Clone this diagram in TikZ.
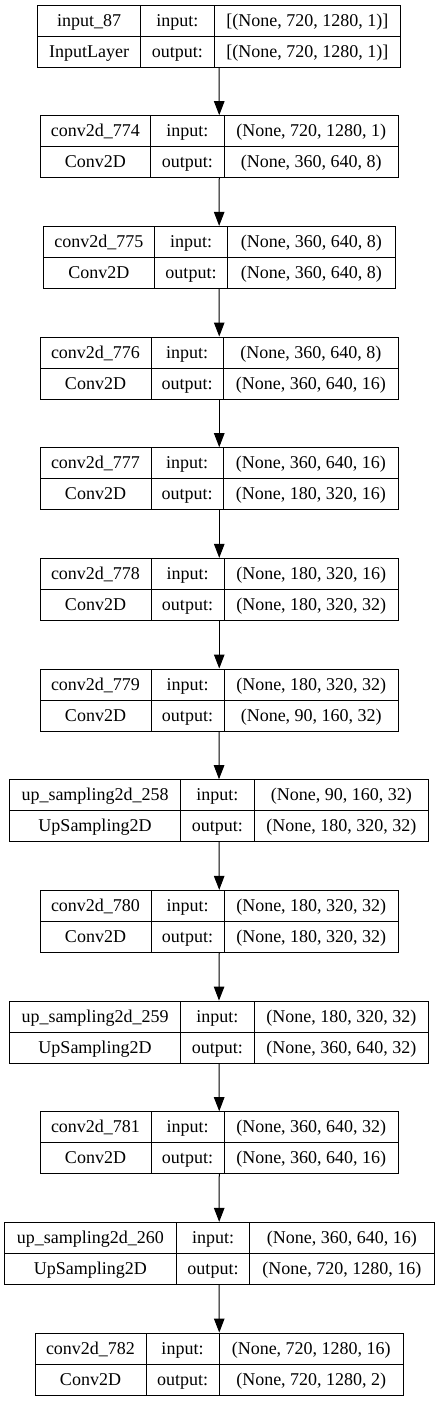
\documentclass[tikz,border=0pt]{standalone}
\usepackage{fontspec}
\setmainfont{Liberation Serif}
\usetikzlibrary{arrows.meta}
\tikzset{
  layerbox/.style={draw=black, line width=1pt, minimum height=62pt, inner sep=0pt, fill=white},
  rule/.style={draw=black, line width=1pt},
  cell/.style={anchor=base, inner sep=0pt, font=\fontsize{18}{20}\selectfont},
  arr/.style={draw=black, line width=1pt, -{Triangle[length=14pt,width=10.5pt]}}
}
\newcommand{\klayer}[9]{%
  \pgfmathsetmacro\ktop{5+#1*110.67}%
  \pgfmathsetmacro\kbot{\ktop+62}%
  \pgfmathsetmacro\kmid{\ktop+31}%
  \pgfmathsetmacro\kw{#5-#2}%
  \pgfmathsetmacro\kcx{(#2+#5)/2}%
  \pgfmathsetmacro\kya{-(\ktop+21)}%
  \pgfmathsetmacro\kyb{-(\kmid+21)}%
  \pgfmathsetmacro\kxa{(#2+#3)/2}%
  \pgfmathsetmacro\kxb{(#3+#4)/2}%
  \pgfmathsetmacro\kxc{(#4+#5)/2}%
  \node[layerbox, minimum width=\kw pt] (b#1) at (\kcx,-\kmid) {};
  \draw[rule] (#3,-\ktop) -- (#3,-\kbot);
  \draw[rule] (#4,-\ktop) -- (#4,-\kbot);
  \draw[rule] (#2,-\kmid) -- (#5,-\kmid);
  \node[cell] (n#1) at (\kxa,\kya) {#6};
  \node[cell] (t#1) at (\kxa,\kyb) {#7};
  \node[cell] (ia#1) at (\kxb,\kya) {input:};
  \node[cell] (oa#1) at (\kxb,\kyb) {output:};
  \node[cell] (iv#1) at (\kxc,\kya) {#8};
  \node[cell] (ov#1) at (\kxc,\kyb) {#9};
}
\begin{document}
\begin{tikzpicture}[x=1pt,y=1pt]
\useasboundingbox (0,0) rectangle (439,-1401);
\fill[white] (0,0) rectangle (439,-1401);
\klayer{0}{37.7}{140.7}{214}{400.7}{input\_87}{InputLayer}{[(None, 720, 1280, 1)]}{[(None, 720, 1280, 1)]}
\klayer{1}{40}{150.7}{224}{398.5}{conv2d\_774}{Conv2D}{(None, 720, 1280, 1)}{(None, 360, 640, 8)}
\klayer{2}{43.3}{154.3}{227.7}{395}{conv2d\_775}{Conv2D}{(None, 360, 640, 8)}{(None, 360, 640, 8)}
\klayer{3}{40}{151}{223.3}{398.5}{conv2d\_776}{Conv2D}{(None, 360, 640, 8)}{(None, 360, 640, 16)}
\klayer{4}{40}{151}{223.3}{398.5}{conv2d\_777}{Conv2D}{(None, 360, 640, 16)}{(None, 180, 320, 16)}
\klayer{5}{40}{151}{224}{398.5}{conv2d\_778}{Conv2D}{(None, 180, 320, 16)}{(None, 180, 320, 32)}
\klayer{6}{40}{151}{224}{398.5}{conv2d\_779}{Conv2D}{(None, 180, 320, 32)}{(None, 90, 160, 32)}
\klayer{7}{9.3}{180.7}{254}{428.7}{up\_sampling2d\_258}{UpSampling2D}{(None, 90, 160, 32)}{(None, 180, 320, 32)}
\klayer{8}{40}{151}{224}{398.5}{conv2d\_780}{Conv2D}{(None, 180, 320, 32)}{(None, 180, 320, 32)}
\klayer{9}{9.3}{180.7}{254}{428.7}{up\_sampling2d\_259}{UpSampling2D}{(None, 180, 320, 32)}{(None, 360, 640, 32)}
\klayer{10}{40}{151}{224}{398.5}{conv2d\_781}{Conv2D}{(None, 360, 640, 32)}{(None, 360, 640, 16)}
\klayer{11}{4}{176.7}{249.3}{434.4}{up\_sampling2d\_260}{UpSampling2D}{(None, 360, 640, 16)}{(None, 720, 1280, 16)}
\klayer{12}{35}{146}{219}{403.5}{conv2d\_782}{Conv2D}{(None, 720, 1280, 16)}{(None, 720, 1280, 2)}
\foreach \a/\b in {0/1,1/2,2/3,3/4,4/5,5/6,6/7,7/8,8/9,9/10,10/11,11/12}
  \draw[arr] (b\a.south) -- (b\b.north);
\end{tikzpicture}
\end{document}
